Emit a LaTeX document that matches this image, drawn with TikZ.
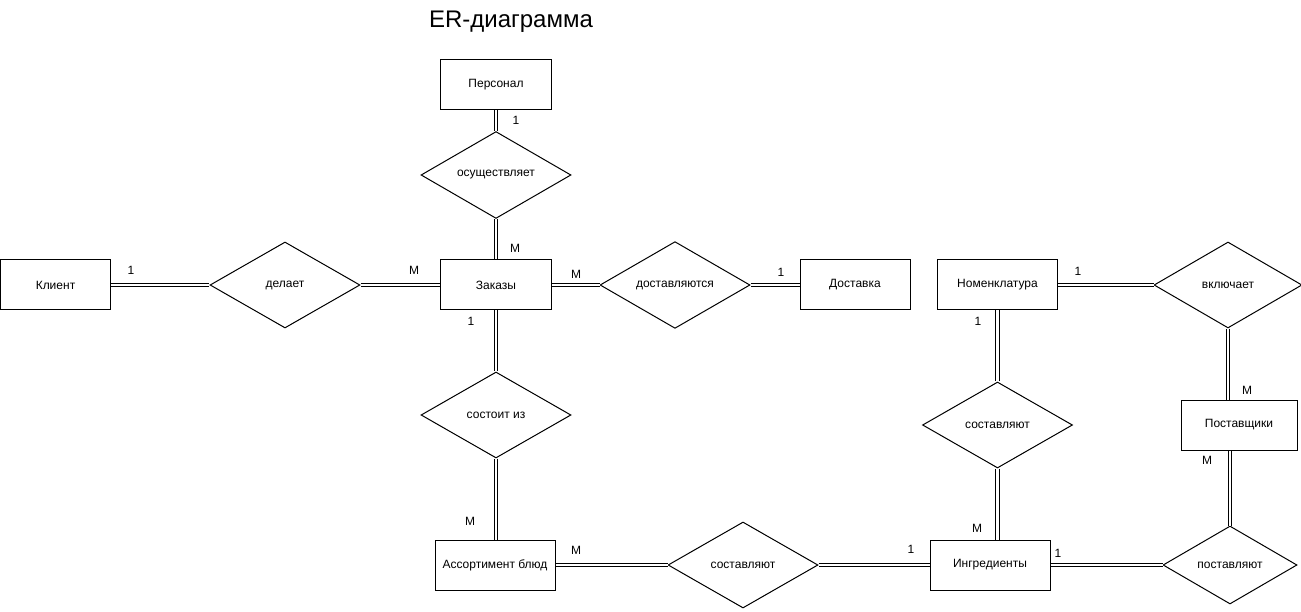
\documentclass[tikz,border=0pt]{standalone}
\usepackage{fontspec}
\setmainfont{Liberation Sans}
\usetikzlibrary{shapes.geometric}

\begin{document}
\begin{tikzpicture}[x=1pt, y=-1pt,
    entity/.style={draw, line width=1pt, minimum width=111pt, minimum height=50pt,
                   inner sep=0pt, align=center, font=\fontsize{12}{14}\selectfont},
    relation/.style={draw, diamond, line width=1pt, minimum width=150pt, minimum height=86pt,
                     inner sep=0pt, align=center, font=\fontsize{12}{14}\selectfont},
    link/.style={draw, line width=1pt, double, double distance=2.5pt},
    card/.style={inner sep=0pt, font=\fontsize{12}{14}\selectfont}
  ]
    \useasboundingbox (0,0) rectangle (1301,612);
    \node[font=\fontsize{24}{28}\selectfont] (title) at (511,22) {ER-диаграмма};

    % entities
    \node[entity] (pers) at (496,85) {Персонал};
    \node[entity] (zak) at (496,285) {Заказы};
    \node[entity, minimum width=110pt] (klient) at (55.5,285) {Клиент};
    \node[entity, minimum width=110pt] (dostavka) at (855,285) {Доставка};
    \node[entity, minimum width=120pt] (nomenk) at (997.5,285) {Номенклатура};
    \node[entity, minimum width=116pt] (postav) at (1239,425) {Поставщики};
    \node[entity, minimum width=120pt] (assort) at (495,565) {Ассортимент блюд};
    \node[entity, minimum width=120pt] (ingr) at (990,565) {Ингредиенты};

    % relations
    \node[relation] (osush) at (496,175) {осуществляет};
    \node[relation] (delaet) at (285,285) {делает};
    \node[relation] (dostavl) at (675,285) {доставляются};
    \node[relation, minimum width=148pt] (vkl) at (1228,285) {включает};
    \node[relation] (sostoit) at (496,415) {состоит из};
    \node[relation] (sost2) at (997.5,425) {составляют};
    \node[relation] (sost1) at (743,565) {составляют};
    \node[relation, minimum width=134pt, minimum height=78pt] (postavl) at (1230,565) {поставляют};

    % links
    \draw[link] (pers) -- (osush);
    \draw[link] (osush) -- (zak);
    \draw[link] (klient) -- (delaet);
    \draw[link] (delaet) -- (zak);
    \draw[link] (zak) -- (dostavl);
    \draw[link] (dostavl) -- (dostavka);
    \draw[link] (zak) -- (sostoit);
    \draw[link] (sostoit.south) -- (sostoit.south |- assort.north);
    \draw[link] (assort) -- (sost1);
    \draw[link] (sost1) -- (ingr);
    \draw[link] (nomenk) -- (vkl);
    \draw[link] (nomenk) -- (sost2);
    \draw[link] (sost2.south) -- (sost2.south |- ingr.north);
    \draw[link] (vkl.south) -- (vkl.south |- postav.north);
    \draw[link] (postav.south -| postavl.north) -- (postavl.north);
    \draw[link] (ingr) -- (postavl);

    % cardinalities
    \node[card] (c1) at (516,120) {1};
    \node[card] (c2) at (515,248) {M};
    \node[card] (c3) at (131,270) {1};
    \node[card] (c4) at (414,270) {M};
    \node[card] (c5) at (576,274) {M};
    \node[card] (c6) at (781,272) {1};
    \node[card] (c7) at (471,321) {1};
    \node[card] (c8) at (470,521) {M};
    \node[card] (c9) at (576,550) {M};
    \node[card] (c10) at (911,549) {1};
    \node[card] (c11) at (1058,553) {1};
    \node[card] (c12) at (977,528) {M};
    \node[card] (c13) at (978,321) {1};
    \node[card] (c14) at (1078,271) {1};
    \node[card] (c15) at (1247,390) {M};
    \node[card] (c16) at (1207,460) {M};
\end{tikzpicture}
\end{document}
